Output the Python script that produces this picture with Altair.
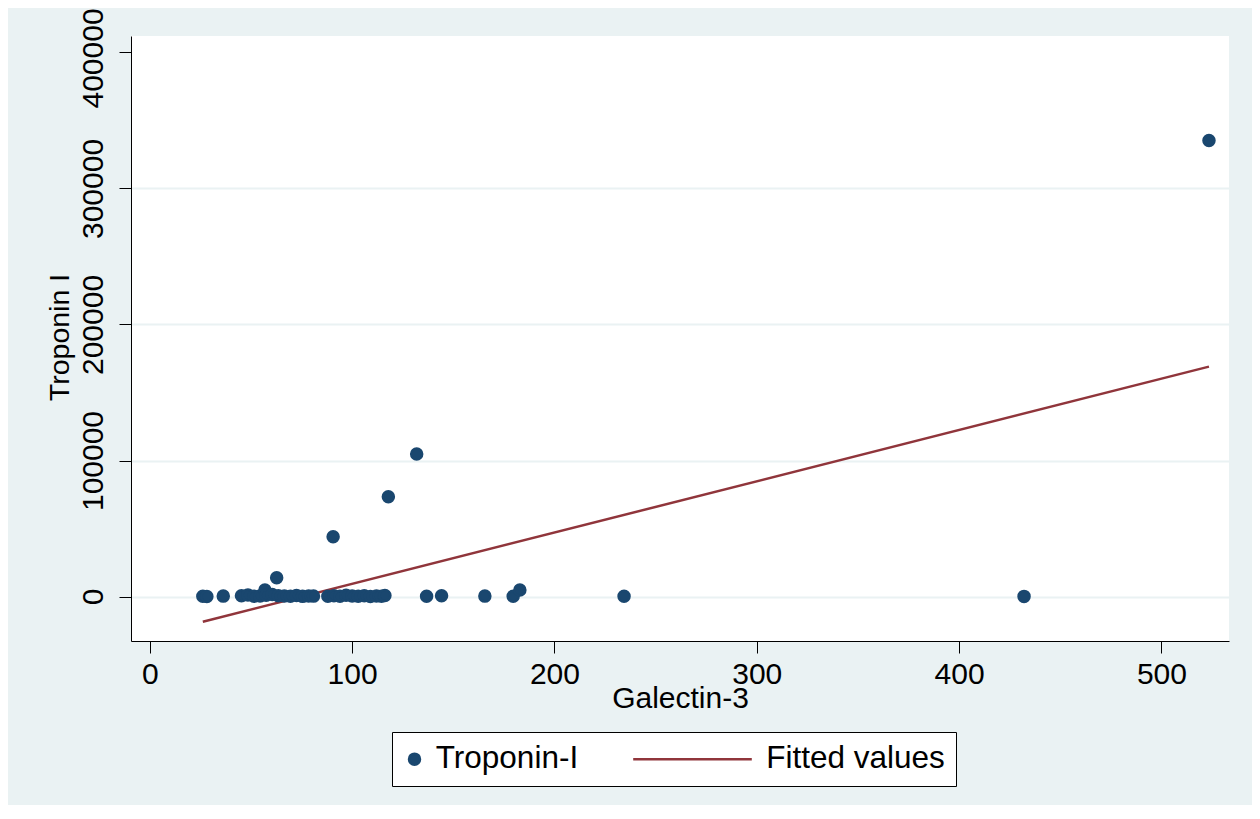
import altair as alt
import pandas as pd

# ---- data ----
tro_x = [26.2, 28.2, 36.3, 45.3, 48.5, 51.5, 54.5, 56.9, 57.5, 60.5, 62.7, 63.5,
         66.5, 69.5, 72.5, 75.5, 78.5, 80.9, 88.0, 90.6, 91.0, 94.0, 97.0, 100.0,
         103.0, 106.0, 109.0, 112.0, 114.5, 116.2, 117.9, 131.9, 136.8, 144.2,
         165.6, 179.6, 182.9, 234.4, 432.1, 523.5]
tro_y = [150, 80, 300, 500, 1200, 250, 400, 4800, 900, 1500, 13800, 600,
         350, 200, 700, 120, 450, 300, 250, 44000, 500, 180, 900, 320,
         150, 600, 80, 400, 230, 700, 73400, 104800, 260, 500,
         300, 200, 4800, 150, 100, 335300]
fit_x = [26.2, 523.5]
fit_y = [-18500, 169000]

x_ticks = [0, 100, 200, 300, 400, 500]
y_ticks = [0, 100000, 200000, 300000, 400000]
series_names = ["Troponin-I", "Fitted values"]

pts = pd.DataFrame({"x": tro_x, "y": tro_y, "series": series_names[0]})
fit = pd.DataFrame({"x": fit_x, "y": fit_y, "series": series_names[1]})

FONT = "Liberation Sans"
NAVY = "#1a476f"
MAROON = "#90353b"
BG = "#eaf2f3"

circle_path = "M-0.55,0A0.55,0.55,0,1,1,0.55,0A0.55,0.55,0,1,1,-0.55,0Z"
line_path = "M-11.18,0L0.68,0"

color_scale = alt.Scale(domain=series_names, range=[NAVY, MAROON])
shape_scale = alt.Scale(domain=series_names, range=[circle_path, line_path])

legend = alt.Legend(
    title=None, orient="none", legendX=261, legendY=696, direction="horizontal",
    fillColor="white", strokeColor="black", padding=11,
    labelFontSize=31.5, labelFont=FONT, labelColor="black", labelOffset=5.5,
    labelLimit=0, columnPadding=48.5, symbolOffset=-4.25, symbolSize=400,
    symbolStrokeWidth=2.5,
)

xscale = alt.Scale(domain=[-9.3, 533.4], nice=False, zero=False)
yscale = alt.Scale(domain=[-32700, 412100], nice=False, zero=False)

x_axis = alt.Axis(
    values=x_ticks, title="Galectin-3", grid=False, tickSize=12,
    labelFlush=False, labelBaseline="alphabetic", labelPadding=30,
    labelFontSize=30, titleFontSize=30, titleBaseline="alphabetic",
    titleY=66, titleX=549, titleAlign="center",
)
y_axis = alt.Axis(
    values=y_ticks, format="d", title="Troponin I", grid=True,
    gridColor=BG, gridWidth=2,
    gridOpacity={"expr": "datum.value >= 400000 ? 0 : 1"},
    labelOffset={"expr": "datum.value >= 400000 ? 5.5 : 0"},
    tickSize=12, labelFlush=False, labelAngle=270, labelAlign="center",
    labelBaseline="alphabetic", labelPadding=17, labelFontSize=30,
    titleFontSize=28.5, titleAngle=270, titleBaseline="alphabetic",
    titleAlign="center", titleX=-63, titleY=301,
)

points = alt.Chart(pts).mark_point(filled=True, size=400, strokeWidth=2.5, opacity=1).encode(
    x=alt.X("x:Q", scale=xscale, axis=x_axis),
    y=alt.Y("y:Q", scale=yscale, axis=y_axis),
    fill=alt.Fill("series:N", scale=color_scale, legend=legend),
    stroke=alt.Stroke("series:N", scale=color_scale, legend=legend),
    shape=alt.Shape("series:N", scale=shape_scale, legend=legend),
)

fitline = alt.Chart(fit).mark_line(strokeWidth=2.5).encode(
    x=alt.X("x:Q", scale=xscale, axis=x_axis),
    y=alt.Y("y:Q", scale=yscale, axis=y_axis),
    stroke=alt.Stroke("series:N", scale=color_scale, legend=legend),
)

chart = alt.layer(fitline, points).properties(
    width=1098, height=605,
    background=BG,
    padding={"left": 123, "top": 28, "right": 23, "bottom": 164},
    autosize=alt.AutoSizeParams(type="none"),
).configure_view(
    fill="white", strokeWidth=0,
).configure_axis(
    labelFont=FONT, titleFont=FONT, labelColor="black", titleColor="black",
    titleFontWeight="normal", domainColor="black", tickColor="black",
    domainWidth=1, tickWidth=1,
)

chart.save("out.html", embed_options={"renderer": "svg", "actions": False})
